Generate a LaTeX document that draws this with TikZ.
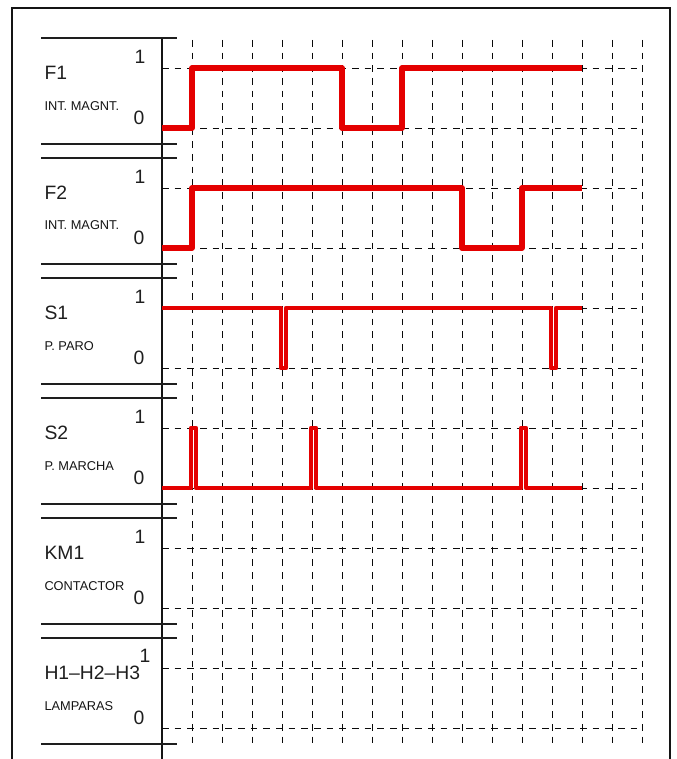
\documentclass[tikz,border=0pt]{standalone}
\usepackage{fontspec}
\setmainfont{Liberation Sans}
\begin{document}
\tikzset{every picture/.style={line width=0.75pt}}
\tikzset{
  frameline/.style={color={rgb, 255:red, 20; green, 20; blue, 20 }, line width=0.9},
  lblline/.style={color={rgb, 255:red, 30; green, 30; blue, 30 }, line width=0.9},
  gridline/.style={color={rgb, 255:red, 10; green, 10; blue, 10 }, line width=0.7, dash pattern=on 5 off 4.5},
  sigline/.style={color={rgb, 255:red, 228; green, 0; blue, 0 }, line width=3.5, line join=round},
  namefont/.style={anchor=west, inner sep=0pt, font=\fontsize{14.5}{16}\selectfont, text={rgb, 255:red, 30; green, 30; blue, 30 }},
  subfont/.style={anchor=west, inner sep=0pt, font=\fontsize{9.6}{11}\selectfont, text={rgb, 255:red, 20; green, 20; blue, 20 }},
  lvlfont/.style={inner sep=0pt, font=\fontsize{14.5}{16}\selectfont, text={rgb, 255:red, 30; green, 30; blue, 30 }}
}

\begin{tikzpicture}[x=0.75pt,y=0.75pt,yscale=-1,xscale=1]
\useasboundingbox (0,0) rectangle (676,759);

%Frame
\draw [frameline] (12,759) -- (12,8) -- (670,8) -- (670,759) ;
%Straight Lines: label column
\draw [frameline] (162,38) -- (162,759) ;

%Straight Lines: grid, vertical
\draw [gridline] (192,40) -- (192,744) ;
\draw [gridline] (222,40) -- (222,744) ;
\draw [gridline] (252,40) -- (252,744) ;
\draw [gridline] (282,40) -- (282,744) ;
\draw [gridline] (312,40) -- (312,744) ;
\draw [gridline] (342,40) -- (342,744) ;
\draw [gridline] (372,40) -- (372,744) ;
\draw [gridline] (402,40) -- (402,744) ;
\draw [gridline] (432,40) -- (432,744) ;
\draw [gridline] (462,40) -- (462,744) ;
\draw [gridline] (492,40) -- (492,744) ;
\draw [gridline] (522,40) -- (522,744) ;
\draw [gridline] (552,40) -- (552,744) ;
\draw [gridline] (582,40) -- (582,744) ;
\draw [gridline] (612,40) -- (612,744) ;
\draw [gridline] (642,40) -- (642,744) ;

%Straight Lines: grid, levels 1 and 0
\draw [gridline] (162,68) -- (642,68) ;
\draw [gridline] (162,128) -- (642,128) ;
\draw [gridline] (162,188) -- (642,188) ;
\draw [gridline] (162,248) -- (642,248) ;
\draw [gridline] (162,308) -- (642,308) ;
\draw [gridline] (162,368) -- (642,368) ;
\draw [gridline] (162,428) -- (642,428) ;
\draw [gridline] (162,488) -- (642,488) ;
\draw [gridline] (162,548) -- (642,548) ;
\draw [gridline] (162,608) -- (642,608) ;
\draw [gridline] (162,668) -- (642,668) ;
\draw [gridline] (162,728) -- (642,728) ;

%Straight Lines: label separators
\draw [lblline] (41,38) -- (177,38) ;
\draw [lblline] (41,144) -- (177,144) ;
\draw [lblline] (41,158) -- (177,158) ;
\draw [lblline] (41,264) -- (177,264) ;
\draw [lblline] (41,278) -- (177,278) ;
\draw [lblline] (41,384) -- (177,384) ;
\draw [lblline] (41,398) -- (177,398) ;
\draw [lblline] (41,504) -- (177,504) ;
\draw [lblline] (41,518) -- (177,518) ;
\draw [lblline] (41,624) -- (177,624) ;
\draw [lblline] (41,638) -- (177,638) ;
\draw [lblline] (41,744) -- (177,744) ;

%Signal F1
\draw [sigline, line width=4] (162,128) -- (192,128) -- (192,68) -- (342,68) -- (342,128) -- (402,128) -- (402,68) -- (582,68) ;
%Signal F2
\draw [sigline, line width=4] (162,248) -- (192,248) -- (192,188) -- (462,188) -- (462,248) -- (522,248) -- (522,188) -- (582,188) ;
%Signal S1
\draw [sigline] (162,308) -- (281,308) -- (281,368) -- (286,368) -- (286,308) -- (551,308) -- (551,368) -- (556,368) -- (556,308) -- (582,308) ;
%Signal S2
\draw [sigline] (162,488) -- (191,488) -- (191,428) -- (196,428) -- (196,488) -- (311,488) -- (311,428) -- (316,428) -- (316,488) -- (521,488) -- (521,428) -- (526,428) -- (526,488) -- (582,488) ;

% Text Node
\node (nf1) [namefont] at (44,73) {F1};
\node (sf1) [subfont] at (44,106) {INT. MAGNT.};
\node (hf1) [lvlfont] at (140,57) {1};
\node (lf1) [lvlfont] at (139,118) {0};
% Text Node
\node (nf2) [namefont] at (44,193) {F2};
\node (sf2) [subfont] at (44,225) {INT. MAGNT.};
\node (hf2) [lvlfont] at (140,177) {1};
\node (lf2) [lvlfont] at (139,238) {0};
% Text Node
\node (ns1) [namefont] at (44,313) {S1};
\node (ss1) [subfont] at (44,346) {P. PARO};
\node (hs1) [lvlfont] at (140,297) {1};
\node (ls1) [lvlfont] at (139,358) {0};
% Text Node
\node (ns2) [namefont] at (44,433) {S2};
\node (ss2) [subfont] at (44,466) {P. MARCHA};
\node (hs2) [lvlfont] at (140,417) {1};
\node (ls2) [lvlfont] at (139,478) {0};
% Text Node
\node (nkm) [namefont] at (44,553) {KM1};
\node (skm) [subfont] at (44,586) {CONTACTOR};
\node (hkm) [lvlfont] at (140,537) {1};
\node (lkm) [lvlfont] at (139,598) {0};
% Text Node
\node (nh) [namefont] at (44,673) {H1–H2–H3};
\node (sh) [subfont] at (44,706) {LAMPARAS};
\node (hh) [lvlfont] at (145,656) {1};
\node (lh) [lvlfont] at (139,718) {0};

\end{tikzpicture}
\end{document}
